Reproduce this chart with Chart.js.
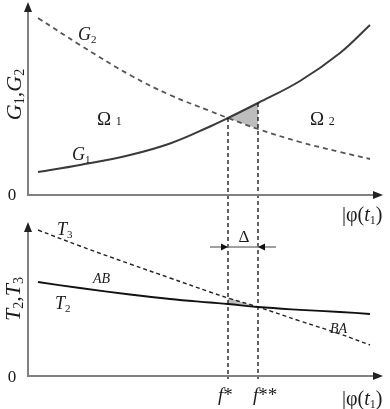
<!DOCTYPE html>
<html>
<head>
<meta charset="utf-8">
<script src="https://cdn.jsdelivr.net/npm/chart.js@4.4.1/dist/chart.umd.min.js"></script>
<style>
  html, body { margin: 0; padding: 0; background: #fff; }
  #wrap { width: 390px; height: 409px; }
</style>
</head>
<body>
<div id="wrap"><canvas id="chart" width="390" height="409"></canvas></div>
<script>
// |phi(t1)| values of the sample points, shared by both panels
const phi = [1, 5.2, 10.2, 14.2, 18.2, 20, 23, 27.2, 31.2, 34.2];
// upper panel
const g1 = [2.3, 3.0, 4.0, 5.15, 6.85, 7.7, 9.2, 11.4, 14.2, 17.0];
const g2 = [17.7, 15.0, 12.0, 10.0, 8.4, 7.7, 6.6, 5.3, 4.3, 3.6];
// lower panel
const t2 = [9.4, 8.8, 8.15, 7.7, 7.35, 7.2, 6.9, 6.62, 6.4, 6.2];
const t3 = [14.6, 13.0, 11.2, 9.8, 8.4, 7.8, 6.9, 5.5, 4.2, 3.1];
// f* and f**
const fMarks = [20, 23];

const SERIF = '"Liberation Serif", "DejaVu Serif", serif';

const iA = phi.indexOf(fMarks[0]);
const iB = phi.indexOf(fMarks[1]);
const pts = (ys) => phi.map((x, i) => ({ x: x, y: ys[i] }));
const seg = (ys) => [{ x: phi[iA], y: ys[iA] }, { x: phi[iB], y: ys[iB] }];

// text labels: parts are [text, kind], kind i = italic, r = roman, s = subscript, m = small
const labels = [
  { parts: [['G', 'i'], ['2', 's']], x: 5.0, y: 15.5, axis: 'yG', size: 18 },
  { parts: [['G', 'i'], ['1', 's']], x: 4.4, y: 3.5, axis: 'yG', size: 18 },
  { parts: [['Ω', 'r'], [' ', 'r'], ['1', 'm']], x: 6.9, y: 7.0, axis: 'yG', size: 19 },
  { parts: [['Ω', 'r'], [' ', 'r'], ['2', 'm']], x: 28.2, y: 7.0, axis: 'yG', size: 19 },
  { parts: [['T', 'i'], ['3', 's']], x: 2.9, y: 14.1, axis: 'yT', size: 18 },
  { parts: [['AB', 'i']], x: 6.5, y: 9.3, axis: 'yT', size: 14 },
  { parts: [['T', 'i'], ['2', 's']], x: 2.7, y: 6.7, axis: 'yT', size: 18 },
  { parts: [['BA', 'i']], x: 30.2, y: 4.3, axis: 'yT', size: 14 },
  { parts: [['Δ', 'r']], x: 21.6, y: 13.4, axis: 'yT', size: 17, align: 'center' },
  { parts: [['f', 'i'], ['*', 'r']], x: 19.0, y: -2.5, axis: 'yT', size: 19 },
  { parts: [['f', 'i'], ['**', 'r']], x: 22.5, y: -2.5, axis: 'yT', size: 19 },
  { parts: [['|φ(', 'r'], ['t', 'i'], ['1', 's'], [')', 'r']], x: 31.4, y: -2.6, axis: 'yG', size: 20 },
  { parts: [['|φ(', 'r'], ['t', 'i'], ['1', 's'], [')', 'r']], x: 31.4, y: -2.9, axis: 'yT', size: 20 },
  { parts: [['0', 'r']], x: -1.6, y: -0.5, axis: 'yG', size: 17, align: 'center' },
  { parts: [['0', 'r']], x: -1.6, y: -0.6, axis: 'yT', size: 17, align: 'center' },
  { parts: [['G', 'i'], ['1', 's'], [',', 'r'], ['G', 'i'], ['2', 's']], x: -0.7, y: 10.05, axis: 'yG', size: 22, align: 'center', rotate: true },
  { parts: [['T', 'i'], ['2', 's'], [',', 'r'], ['T', 'i'], ['3', 's']], x: -0.8, y: 7.7, axis: 'yT', size: 22, align: 'center', rotate: true }
];

function partFont(kind, size) {
  const small = kind === 's' || kind === 'm';
  const sz = small ? Math.round(size * 0.62) : size;
  return (kind === 'i' ? 'italic ' : '') + sz + 'px ' + SERIF;
}

function drawRich(ctx, parts, x, y, size, align) {
  let w = 0;
  parts.forEach(([t, k]) => { ctx.font = partFont(k, size); w += ctx.measureText(t).width; });
  let cx = align === 'center' ? x - w / 2 : x;
  ctx.textAlign = 'left';
  ctx.textBaseline = 'alphabetic';
  parts.forEach(([t, k]) => {
    ctx.font = partFont(k, size);
    const dy = k === 's' ? size * 0.15 : 0;
    ctx.fillText(t, cx, y + dy);
    cx += ctx.measureText(t).width;
  });
}

function arrowHead(ctx, x, y, dir, len, half) {
  ctx.beginPath();
  if (dir === 'up') {
    ctx.moveTo(x, y); ctx.lineTo(x - half, y + len); ctx.lineTo(x + half, y + len);
  } else if (dir === 'right') {
    ctx.moveTo(x, y); ctx.lineTo(x - len, y - half); ctx.lineTo(x - len, y + half);
  } else {
    ctx.moveTo(x, y); ctx.lineTo(x + len, y - half); ctx.lineTo(x + len, y + half);
  }
  ctx.closePath();
  ctx.fill();
}

const decor = {
  id: 'decor',
  afterDatasetsDraw(chart) {
    const ctx = chart.ctx;
    const xs = chart.scales.x, yG = chart.scales.yG, yT = chart.scales.yT;
    const x0 = xs.getPixelForValue(0);
    const xEnd = xs.getPixelForValue(35.5);
    ctx.save();

    // vertical dashed lines at f* and f**
    ctx.strokeStyle = '#111';
    ctx.lineWidth = 1.3;
    ctx.setLineDash([4, 3]);
    [iA, iB].forEach((i) => {
      const px = xs.getPixelForValue(phi[i]);
      ctx.beginPath();
      ctx.moveTo(px, yG.getPixelForValue(g1[i]));
      ctx.lineTo(px, yT.getPixelForValue(0) + 3);
      ctx.stroke();
    });
    ctx.setLineDash([]);

    // axes with arrows
    ctx.strokeStyle = '#808080';
    ctx.fillStyle = '#222';
    ctx.lineWidth = 2;
    [[yG, 19.3], [yT, 15.4]].forEach(([ys, top]) => {
      const yb = ys.getPixelForValue(0);
      const yt = ys.getPixelForValue(top);
      ctx.beginPath();
      ctx.moveTo(x0, yt + 8);
      ctx.lineTo(x0, yb);
      ctx.lineTo(xEnd - 8, yb);
      ctx.stroke();
      arrowHead(ctx, x0, yt, 'up', 10, 4);
      arrowHead(ctx, xEnd, yb, 'right', 10, 4);
    });

    // delta dimension
    const yd = yT.getPixelForValue(12.9);
    ctx.strokeStyle = '#808080';
    ctx.lineWidth = 1.5;
    ctx.beginPath();
    ctx.moveTo(xs.getPixelForValue(18.2), yd);
    ctx.lineTo(xs.getPixelForValue(24.8), yd);
    ctx.stroke();
    ctx.fillStyle = '#111';
    arrowHead(ctx, xs.getPixelForValue(fMarks[0]), yd, 'right', 7, 3.5);
    arrowHead(ctx, xs.getPixelForValue(fMarks[1]), yd, 'left', 7, 3.5);

    // labels
    ctx.fillStyle = '#1a1a1a';
    labels.forEach((l) => {
      const px = xs.getPixelForValue(l.x);
      const py = chart.scales[l.axis].getPixelForValue(l.y);
      if (l.rotate) {
        ctx.save();
        ctx.translate(px, py);
        ctx.rotate(-Math.PI / 2);
        drawRich(ctx, l.parts, 0, 0, l.size, l.align);
        ctx.restore();
      } else {
        drawRich(ctx, l.parts, px, py, l.size, l.align);
      }
    });
    ctx.restore();
  }
};

const line = (data, axis, color, width, dash) => ({
  data: data,
  yAxisID: axis,
  borderColor: color,
  borderWidth: width,
  borderDash: dash || [],
  pointRadius: 0,
  tension: 0.4,
  fill: false,
  order: 1
});

const shade = (data, axis, fill) => ({
  data: data,
  yAxisID: axis,
  borderWidth: 0,
  pointRadius: 0,
  backgroundColor: '#bdbdbd',
  fill: fill,
  order: 5
});

new Chart(document.getElementById('chart'), {
  type: 'line',
  data: {
    datasets: [
      line(pts(g1), 'yG', '#3a3a3a', 2),
      line(pts(g2), 'yG', '#555', 1.8, [5, 4]),
      shade(seg(g1), 'yG', '+1'),
      shade(seg(g2), 'yG', false),
      shade(seg(t3), 'yT', '+1'),
      shade(seg(t2), 'yT', false),
      line(pts(t2), 'yT', '#111', 1.8),
      line(pts(t3), 'yT', '#222', 1.4, [4, 3])
    ]
  },
  options: {
    responsive: false,
    animation: false,
    layout: { padding: { left: 28, right: 2, top: 0, bottom: 0 } },
    plugins: { legend: { display: false }, tooltip: { enabled: false } },
    scales: {
      x: { type: 'linear', min: 0, max: 36, display: false },
      // stacked left axes: the one listed last ends up on top
      yT: { type: 'linear', position: 'left', stack: 'v', stackWeight: 204, min: -3.3, max: 17.1, display: false },
      yG: { type: 'linear', position: 'left', stack: 'v', stackWeight: 205, min: -1, max: 19.5, display: false }
    }
  },
  plugins: [decor]
});
</script>
</body>
</html>
